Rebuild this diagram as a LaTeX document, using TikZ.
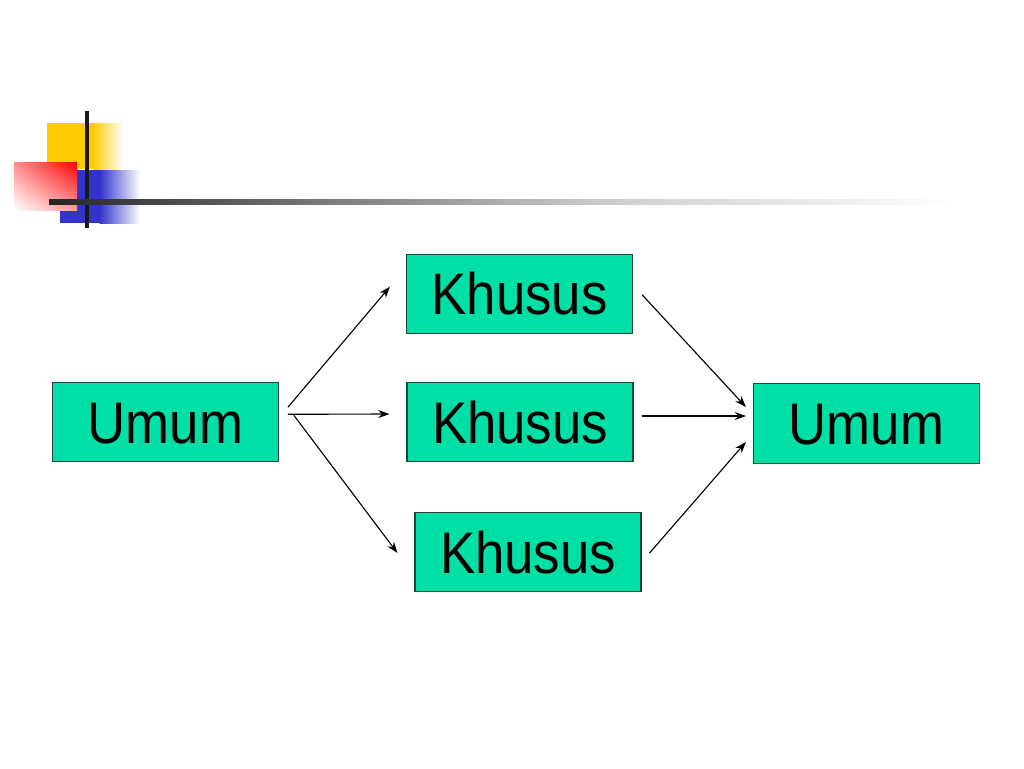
\documentclass[tikz,border=0pt]{standalone}
\usepackage{fontspec}
\setmainfont{Liberation Sans}[FakeStretch=0.9]
\usetikzlibrary{calc,arrows.meta,shadings}
\definecolor{termgreen}{RGB}{0,224,166}
\definecolor{termline}{RGB}{30,70,60}
\definecolor{decoblue}{RGB}{51,51,204}
\definecolor{decoyellow}{RGB}{255,204,0}
\tikzset{
  term/.style={draw=termline,fill=termgreen,rectangle,line width=0.8pt,minimum width=56.5mm,minimum height=19.8mm,inner sep=0pt,text height=30pt,text depth=0pt,font=\fontsize{41.7pt}{50pt}\selectfont},
  flow/.style={-{Stealth[length=2.8mm,width=2mm]},line width=0.8pt}
}
\begin{document}
\begin{tikzpicture}[x=0.25mm,y=-0.25mm]
\fill[white] (0,0) rectangle (1024,768);

\fill[decoyellow] (47,123) rectangle (93,169);
\shade[left color=decoyellow,right color=white] (92.5,123) rectangle (123,169);
\fill[decoblue] (60,170) rectangle (100,223);
\shade[left color=decoblue,right color=white] (99.5,170) rectangle (140,223);
\shade[upper right=red,upper left=red!45,lower right=red!40,lower left=white] (14,162) rectangle (77,210);
\fill[black!90] (85,111) rectangle (89,228);
\shade[left color=black!85,right color=black!20] (49,199) rectangle (600,204);
\shade[left color=black!20,right color=white] (599.5,199) rectangle (960,204);

\draw node [term] (umA) at (165.3,422.3) {Umum};
\draw node [term] (khA) at (519.5,293.7) {Khusus};
\draw node [term] (khB) at (520,422) {Khusus};
\draw node [term] (khC) at (528,552) {Khusus};
\draw node [term] (umB) at (866.5,423.5) {Umum};

\draw[flow] ($ (umA.east)+(9,-15) $) -- ($ (khA.west)+(-16,-7) $);
\draw[flow] ($ (umA.east)+(9,-8) $) -- ($ (khB.west)+(-17,-8) $);
\draw[flow] ($ (umA.east)+(15,-7) $) -- ($ (khC.west)+(-17,1) $);

\draw[flow] ($ (khA.east)+(9,1) $) -- ($ (umB.west)+(-7,-16.5) $);
\draw[flow] ($ (khB.east)+(8,-6) $) -- ($ (umB.west)+(-7,-7.5) $);
\draw[flow] ($ (khC.east)+(8,1) $) -- ($ (umB.west)+(-7,18.5) $);

\end{tikzpicture}
\end{document}
